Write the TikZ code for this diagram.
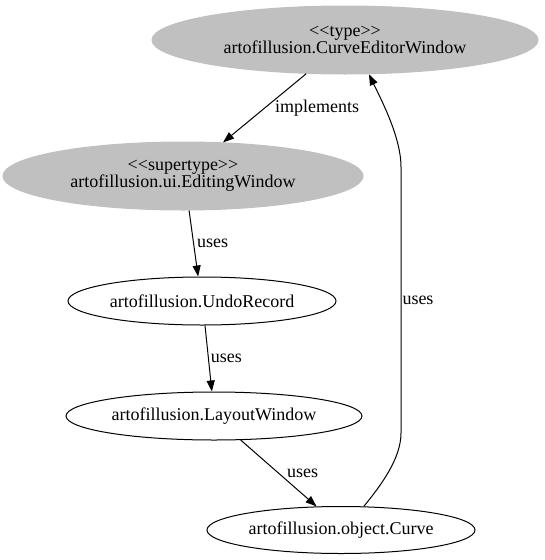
\documentclass[tikz,border=0pt]{standalone}
\usepackage{fontspec}
\setmainfont{Liberation Serif}
\usetikzlibrary{shapes.geometric,arrows.meta}
\definecolor{nodegray}{HTML}{C0C0C0}
\newcommand{\stereotag}[1]{<\kern0pt<#1>\kern0pt>}

\begin{document}
\begin{tikzpicture}[x=1pt,y=-1pt,font=\fontsize{18}{17}\selectfont,
	cls/.style={ellipse,draw,line width=1pt,inner sep=0pt,align=center},
	stereo/.style={cls,fill=nodegray,draw=nodegray},
	dep/.style={-{Triangle[length=11pt,width=8pt]},line width=1pt},
	lbl/.style={right,inner sep=1pt}]
	\useasboundingbox (0,0) rectangle (544,560);

	% draw nodes
	\node[stereo,minimum width=386pt,minimum height=68pt] (type) at (345,40) {\stereotag{type}\\artofillusion.CurveEditorWindow};
	\node[stereo,minimum width=360pt,minimum height=68pt] (super) at (183,176) {\stereotag{supertype}\\artofillusion.ui.EditingWindow};
	\node[cls,minimum width=268pt,minimum height=48pt] (undo) at (202,301) {artofillusion.UndoRecord};
	\node[cls,minimum width=296pt,minimum height=48pt] (layout) at (214,416) {artofillusion.LayoutWindow};
	\node[cls,minimum width=268pt,minimum height=47pt] (curve) at (341,530) {artofillusion.object.Curve};

	% draw edges
	\draw[dep] (type.221.8) -- (super.40) node[lbl,midway,xshift=9pt] {implements};
	\draw[dep] (super.-80) -- (undo.99.5) node[lbl,midway,xshift=2pt] {uses};
	\draw[dep] (undo.-83) -- (layout.95) node[lbl,midway,xshift=1pt] {uses};
	\draw[dep] (layout.-42.7) -- (curve.136) node[lbl,midway,xshift=7pt] {uses};

	% back edge
	\coordinate (bendlow) at (401,433);
	\coordinate (bendhigh) at (401,167);
	\draw[dep] (curve.46) .. controls +(18,-22) and +(0,25) .. (bendlow) -- (bendhigh) node[lbl,midway] {uses} .. controls +(0,-30) and +(12,25) .. (type.-55);
\end{tikzpicture}
\end{document}
